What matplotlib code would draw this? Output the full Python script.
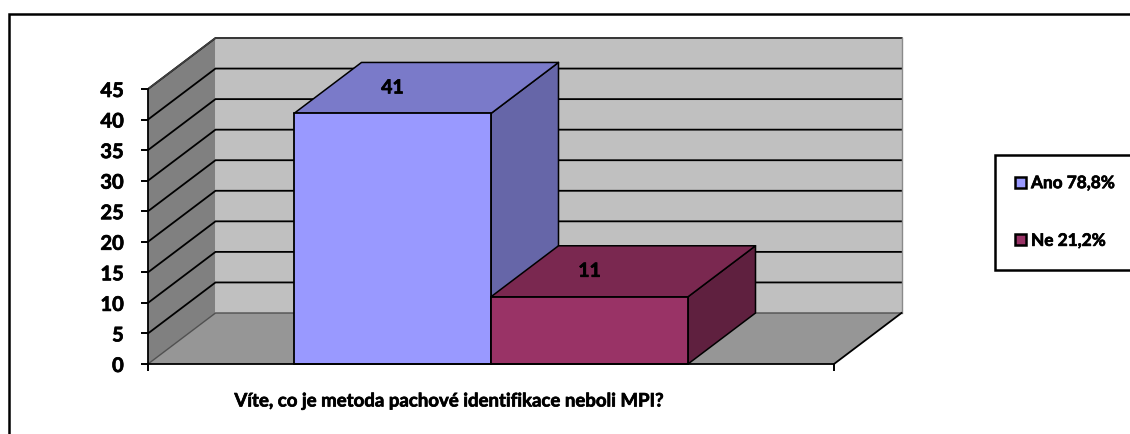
import matplotlib
matplotlib.use("Agg")
import matplotlib.pyplot as plt
import matplotlib.patheffects as pe
from matplotlib.patches import Polygon, Rectangle

W, H = 1130, 435
series_names = ["Ano 78,8%", "Ne 21,2%"]
values = [41, 11]
bar_colors = ["#9999FF", "#993366"]
top_colors = ["#7A7AC9", "#7A2850"]
side_colors = ["#6666A8", "#5F203F"]
yticks = [0, 5, 10, 15, 20, 25, 30, 35, 40, 45]
title = "Víte, co je metoda pachové identifikace neboli MPI?"

plt.rcParams["font.family"] = ["Lato", "DejaVu Sans"]
plt.rcParams["font.weight"] = "bold"
heavy = [pe.withStroke(linewidth=0.5, foreground="black")]

fig = plt.figure(figsize=(W / 100, H / 100), dpi=100, facecolor="white")
L, R, T, B = 148, 834, 90.0, 365.0
ax = fig.add_axes([L / W, 1 - B / H, (R - L) / W, (B - T) / H])
ax.set_xlim(-0.5, 0.5)
ax.set_ylim(0, 45)
ax.patch.set_visible(False)

dx = 67.5 / (R - L)
dy = 51 / ((B - T) / 45)
x0, x1 = -0.5, 0.5
ytop = 45


def poly(pts, fc, ec="none", lw=0, z=1):
    ax.add_patch(Polygon(pts, closed=True, facecolor=fc, edgecolor=ec,
                         linewidth=lw, zorder=z, clip_on=False, joinstyle="round"))


# walls and floor
poly([(x0, 0), (x0 + dx, dy), (x0 + dx, ytop + dy), (x0, ytop)], "#808080", z=1)
poly([(x0 + dx, dy), (x1 + dx, dy), (x1 + dx, ytop + dy), (x0 + dx, ytop + dy)], "#C0C0C0", z=1)
poly([(x0, 0), (x1, 0), (x1 + dx, dy), (x0 + dx, dy)], "#969696", z=1)

# gridlines
for v in yticks[1:]:
    ax.plot([x0, x0 + dx, x1 + dx], [v, v + dy, v + dy], color="black", lw=1.3,
            zorder=2, clip_on=False, solid_joinstyle="miter")
# wall edges
ax.plot([x0, x0 + dx, x1 + dx], [ytop, ytop + dy, ytop + dy], color="#404040", lw=1.2, zorder=2, clip_on=False)
ax.plot([x1 + dx, x1 + dx], [dy, ytop + dy], color="#8a8a8a", lw=1.0, zorder=2, clip_on=False)
ax.plot([x0, x0 + dx, x1 + dx], [0, dy, dy], color="#505050", lw=1.0, zorder=2, clip_on=False)
ax.plot([x1, x1 + dx], [0, dy], color="black", lw=1.3, zorder=2, clip_on=False)

# bars
bw = 197 / (R - L)
xs = [0 - bw / 2, 0 + bw / 2]
for i, (x, v) in enumerate(zip(xs, values)):
    z = 3 + i
    l, r = x - bw / 2, x + bw / 2
    poly([(r, 0), (r + dx, dy), (r + dx, v + dy), (r, v)], side_colors[i], "black", 1.1, z)
    poly([(l, v), (r, v), (r + dx, v + dy), (l + dx, v + dy)], top_colors[i], "black", 1.1, z)
    ax.bar(x, v, width=bw, color=bar_colors[i], edgecolor="black", linewidth=1.3,
           zorder=z + 0.1, label=series_names[i], clip_on=False)
    ax.text(x, v + dy / 2, str(v), ha="center", va="center", fontsize=14,
            fontweight="bold", color="black", zorder=6, path_effects=heavy)

# axes
for s in ["top", "right"]:
    ax.spines[s].set_visible(False)
for s in ["left", "bottom"]:
    ax.spines[s].set_linewidth(1.3)
    ax.spines[s].set_zorder(7)
ax.set_yticks(yticks)
ax.set_xticks([x0, x1])
ax.set_xticklabels([])
ax.tick_params(axis="both", direction="out", length=5, width=1.4, color="black")
ax.tick_params(axis="y", labelsize=14.5, pad=12.5)
for lab in ax.get_yticklabels():
    lab.set_fontweight("bold")
    lab.set_path_effects(heavy)

fig.text(449.5 / W, 1 - 402 / H, title, ha="center", va="center", fontsize=13.4,
         fontweight="bold", path_effects=heavy)

# outer frame (runs past the right and bottom edges)
fig.patches.append(Rectangle((8.5 / W, -0.1), 1.2, 0.1 + 1 - 14.5 / H, transform=fig.transFigure,
                             fill=False, edgecolor="black", linewidth=1.8, figure=fig))

# legend
handles, labels = ax.get_legend_handles_labels()
leg = fig.legend(handles, labels, loc="upper left", bbox_to_anchor=(994.5 / W, 1 - 155.5 / H),
                 borderaxespad=0, frameon=True, fancybox=False, edgecolor="black", framealpha=1,
                 handlelength=0.62, handleheight=0.62, handletextpad=0.3,
                 labelspacing=2.42, borderpad=1.2, prop={"family": "Lato", "weight": "bold", "size": 12.4})
leg.get_frame().set_linewidth(1.8)
for p in leg.legend_handles:
    p.set_linewidth(1.8)
for t in leg.get_texts():
    t.set_path_effects(heavy)

fig.savefig("out.png", dpi=100)
